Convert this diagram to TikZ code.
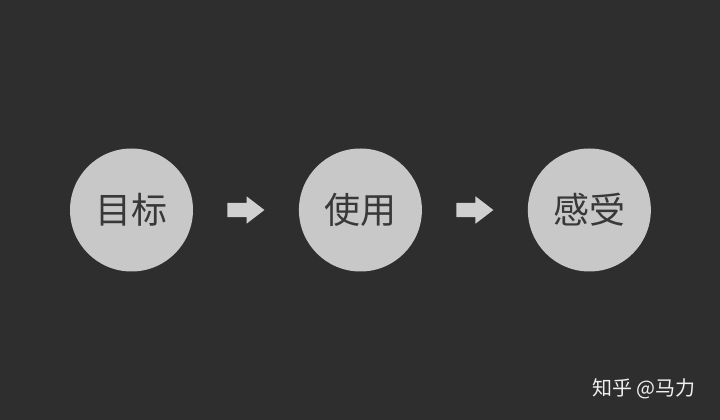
\documentclass[tikz,border=0pt]{standalone}
\usepackage{fontspec}
\usepackage{xcolor}
\usepackage{tikz}
\usetikzlibrary{positioning,shapes.arrows}
\newfontfamily\cjk{Noto Sans CJK SC}
\definecolor{bgdark}{HTML}{2E2E2E}
\definecolor{ballgrey}{HTML}{C8C8C8}
\definecolor{inkgrey}{HTML}{383838}
\definecolor{arrowgrey}{HTML}{D0D0D0}

\begin{document}
\begin{tikzpicture}[ball/.style={circle, fill=ballgrey, minimum size=123pt, inner sep=0pt,
                        text=inkgrey, font=\cjk\fontsize{36pt}{40pt}\selectfont},
                    blockarrow/.style={single arrow, fill=arrowgrey, minimum height=37pt,
                        inner xsep=0pt, inner ysep=7pt, single arrow head extend=6.5pt,
                        single arrow tip angle=75}]
                \fill[bgdark] (0,0) rectangle (720pt,420pt);
                \useasboundingbox (0,0) rectangle (720pt,420pt);
                \node[ball] (goal) at (131.5pt,210pt) {目标};
                \node[blockarrow, right=34pt of goal] (arrowa) {};
                \node[ball, right=34pt of arrowa] (usage) {使用};
                \node[blockarrow, right=34pt of usage] (arrowb) {};
                \node[ball, right=34pt of arrowb] (feel) {感受};
                \node[text=white!94!black, font=\cjk\fontsize{20pt}{24pt}\selectfont] (mark) at (644pt,31pt) {知乎 @马力};
            \end{tikzpicture}
\end{document}
